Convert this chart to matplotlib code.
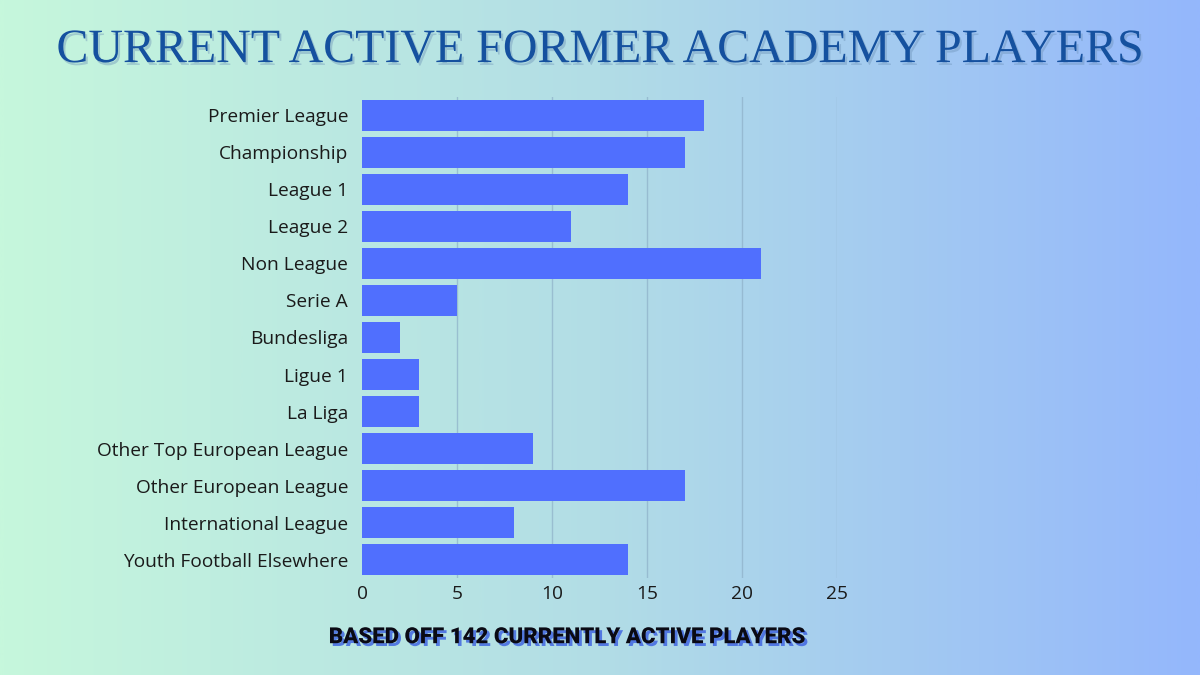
import numpy as np
import matplotlib
matplotlib.use("Agg")
import matplotlib.pyplot as plt
import matplotlib.patheffects as pe
from matplotlib.colors import LinearSegmentedColormap

categories = ["Premier League", "Championship", "League 1", "League 2", "Non League",
              "Serie A", "Bundesliga", "Ligue 1", "La Liga", "Other Top European League",
              "Other European League", "International League", "Youth Football Elsewhere"]
values = [18, 17, 14, 11, 21, 5, 2, 3, 3, 9, 17, 8, 14]
xticks = [0, 5, 10, 15, 20, 25]
title = "CURRENT ACTIVE FORMER ACADEMY PLAYERS"
subtitle = "BASED OFF 142 CURRENTLY ACTIVE PLAYERS"

plt.rcParams['font.family'] = ['Open Sans', 'DejaVu Sans']

fig = plt.figure(figsize=(12, 6.75), dpi=100)

# background gradient
bg = fig.add_axes([0, 0, 1, 1], zorder=0)
cmap = LinearSegmentedColormap.from_list("bg", ["#c6f7dc", "#b2dde6", "#94b7fc"])
grad = np.linspace(0, 1, 512).reshape(1, -1)
bg.imshow(grad, aspect="auto", cmap=cmap, extent=[0, 1, 0, 1])
bg.set_axis_off()

ax = fig.add_axes([0.3017, 0.1437, 0.3958, 0.7126], zorder=1)
ax.patch.set_alpha(0)
y = np.arange(len(categories))
ax.barh(y, values, height=0.85, color="#506ffe", zorder=3)
ax.set_ylim(len(categories) - 0.5, -0.5)
ax.set_xlim(0, 25)
ax.set_xticks(xticks)
ax.set_yticks(y)
ax.set_yticklabels(categories, fontsize=13.8, color="#1a1a1a")
ax.tick_params(axis='x', labelsize=13.8, colors="#1a1a1a", length=0, pad=5)
ax.tick_params(axis='y', length=0, pad=10)
for s in ax.spines.values():
    s.set_visible(False)
for t in xticks[1:]:
    ax.axvline(t, color="#8eb0c8", lw=1, alpha=0.7, zorder=1)

fig.text(0.5, 0.908, title, ha="center", va="baseline", fontsize=34.5,
         family=["Liberation Serif", "DejaVu Serif"], color="#15519f",
         path_effects=[pe.withSimplePatchShadow(offset=(1.5, -2), shadow_rgbFace="#6a8fb5", alpha=0.4)])

fig.text(0.473, 0.056, subtitle, ha="center", va="center", fontsize=16, fontweight="black",
         family=["Roboto", "DejaVu Sans"], color="#0a0a14",
         path_effects=[pe.withSimplePatchShadow(offset=(2, -2), shadow_rgbFace="#3a5fe0", alpha=0.8)])

fig.savefig("out.png", dpi=100)
